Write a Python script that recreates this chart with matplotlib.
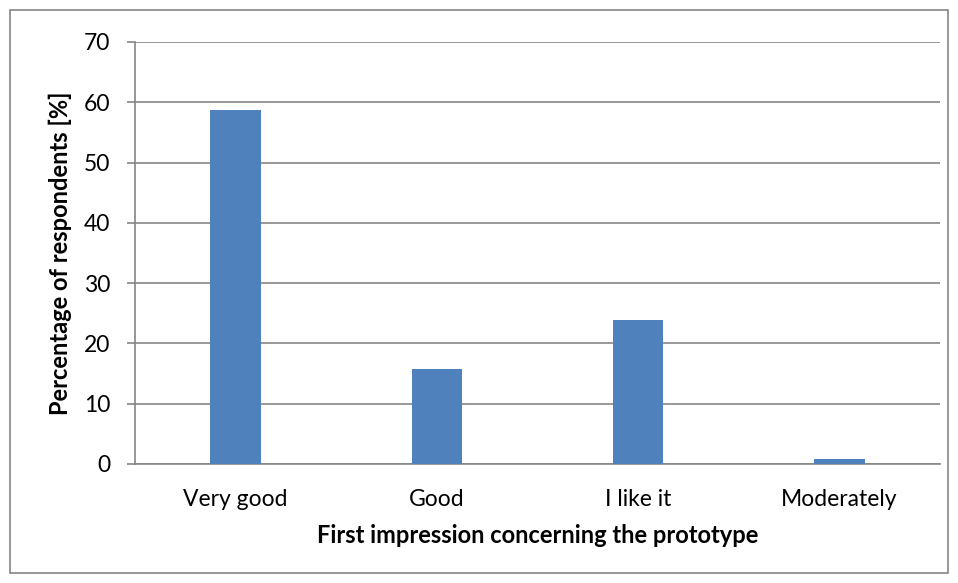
import matplotlib.pyplot as plt
from matplotlib.patches import Rectangle

categories = ["Very good", "Good", "I like it", "Moderately"]
percentages = [58.7, 15.8, 23.9, 0.9]

plt.rcParams['font.family'] = ['Lato', 'DejaVu Sans']

fig = plt.figure(figsize=(9.58, 5.83), dpi=100)
ax = fig.add_axes([135 / 958, (583 - 464) / 583, 805 / 958, 422 / 583])

x = range(len(categories))
ax.bar(x, percentages, width=0.25, color="#4F81BD", zorder=3)

ax.set_xlim(-0.5, len(categories) - 0.5)
ax.set_ylim(0, 70)
ax.set_yticks(range(0, 71, 10))
ax.set_xticks(list(x))
ax.set_xticklabels(categories)

ax.grid(axis='y', color="#868686", linewidth=1.2, zorder=0)
for s in ['top', 'right']:
    ax.spines[s].set_visible(False)
ax.spines['left'].set_color("#868686")
ax.spines['bottom'].set_color("#868686")
ax.spines['left'].set_linewidth(1.2)
ax.spines['bottom'].set_linewidth(1.2)
ax.tick_params(axis='y', length=6, color="#868686", width=1.2, labelsize=16.5, pad=12)
ax.tick_params(axis='x', length=0, labelsize=16.5, pad=18)

ax.set_xlabel("First impression concerning the prototype", fontsize=17,
              fontweight='bold', labelpad=10)
ax.set_ylabel("Percentage of respondents [%]", fontsize=17,
              fontweight='bold', labelpad=8)

# outer chart border
fig.patches.append(Rectangle((10 / 958, 10 / 583), 938 / 958, 563 / 583,
                             transform=fig.transFigure, fill=False,
                             edgecolor="#868686", linewidth=1.2))

fig.savefig("out.png", dpi=100)
